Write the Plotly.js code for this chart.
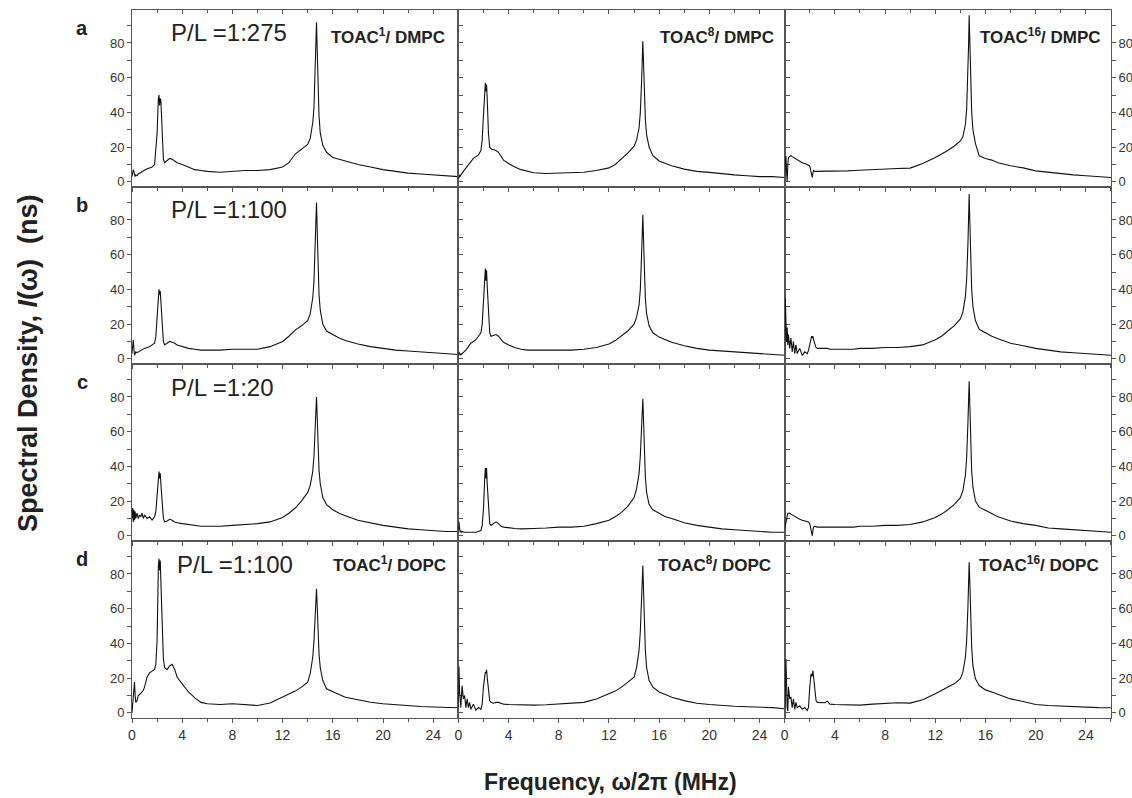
<!DOCTYPE html>
<html><head><meta charset="utf-8">
<script src="https://cdn.plot.ly/plotly-3.0.1.min.js"></script>
<style>html,body{margin:0;padding:0;background:#fff}#chart{width:1132px;height:798px}</style>
</head><body><div id="chart"></div>
<script>
// Frequency grid (MHz)
const freq = [0,0.05,0.1,0.15,0.2,0.25,0.3,0.4,0.5,0.6,
  0.7,0.8,0.9,1.0,1.2,1.4,1.6,1.8,1.9,2.0,
  2.1,2.15,2.2,2.25,2.3,2.4,2.5,2.6,2.8,3.0,
  3.2,3.4,3.6,4.0,4.5,5,5.5,6,7,8,
  9,10,11,12,12.5,13,13.5,14,14.2,14.4,
  14.5,14.6,14.65,14.7,14.75,14.8,14.9,15.0,15.2,15.5,
  16,16.5,17,18,19,20,21,22,23,24,25,26];

// Row a (P/L 1:275, DMPC)
const aL = [3,5,7,6,4,3,4,3.5,4.5,5, 5,6,6.5,6.5,7.5,8,8.5,10,17,28, 48,50,44,48,47,25,13,11,12,13.5, 13,12,11,10,8.5,7,6.5,6,5.5,6, 6.5,6.5,7,8.5,11,16,19,21.5,25,34, 43,62,80,92,78,58,38,28,21,17, 14,13,12,10,8.5,7,6,5,4.5,4,3.5,3];
const aM = [3,2,4,3,4,5,5,6,7,8, 9,10,11,12,13.5,14.5,15.5,18,24,38, 56,57,52,56,48,28,20,19,18.5,18, 17,15,12.5,10.5,8.5,7,6,5.2,4.8,5, 5,5.5,6.5,8,10,13,16.5,20.5,24,31, 40,58,72,81,70,52,36,27,20,15, 12,10.5,9.2,7.3,6,5.4,4.5,4,3.5,3,3,2.5];
const aR = [3.5,8,15,6,0,10,14,14.5,15,14.5, 14,13.5,13,13,12,11,10.5,10,9.5,9, 6,3,2.5,5,6.5,6,6,6,6,6.3, 6,6,6,6,6,6.3,6.5,6.7,7.3,7.7, 7.7,7.9,10.5,14,16,18,20.5,23.5,26,33, 42,60,78,96,80,58,40,30,22,15, 13.4,12.5,11,9.2,8,6.3,5.5,4.4,4,3.5,3,2.5];
// Row b (P/L 1:100, DMPC)
const bL = [3,8,11,6,2,3,4,3.5,4,4.5, 5,5.5,6,6,6.5,7,8,9,13,22, 36,40,37,39,33,18,10,8,9,10, 9.5,9,8,7,6,5.5,5,5,5,5.5, 5.5,5.5,7,10,13,16.5,19,22,26,35, 45,64,80,90,76,56,37,28,20,16, 14,12,10.5,8.5,7,6,5,4.5,4,3.5,3,2.5];
const bM = [2,4,3,2,3,2.5,3,3.5,4,5, 6,7,8,9,10,11,13,15,20,32, 48,52,45,51,42,24,15,13,13.5,14, 13,11,9.5,8,6.5,5.5,5,5,4.8,5, 5,5.5,6.5,8.5,10.5,13,16,20,24,31, 40,60,75,83,70,52,35,26,19,15, 12.5,11,9.5,7.5,6,5,4.5,4,3.5,3,2.5,2];
const bR = [5,35,22,10,18,8,14,6,12,4, 10,3,8,3,6,2,4,3,5,9, 12,13,12,13,11,8,6.5,6,6,6, 6,6,5.5,5.5,5.5,5.5,5.5,6,6,6.5, 6.5,7,8,11,13,16,19,23,27,36, 46,66,84,95,80,60,40,30,22,17, 15,13,11.5,9,7.5,6,5,4,3.5,3,2.5,2];
// Row c (P/L 1:20, DMPC)
const cL = [10,16,8,15,9,14,10,13,10,12, 11,13,10,12,10,11,9,11,14,22, 34,37,33,36,30,17,10,8,8.5,9.5, 9,8,7.5,7,6.5,6,5.5,5.5,5.5,6, 6.5,7,8,10.5,13,16,20,25,29,37, 46,62,74,80,70,54,38,30,22,18, 15,13,11.5,9,7.5,6,5,4,3.5,3,2.5,2.5];
const cM = [3,8,4,2,3,2,2.5,2,2,2, 2,2,2,2,2,2,2.5,3,6,15, 33,39,33,39,30,14,7,6,7,8, 7,5.5,5,4.5,4.2,4,4,4.2,4.5,5, 5,5.5,7,9,11,13.5,17,22,27,36, 46,64,76,79,68,50,34,25,18,15, 13,11,10,7.5,6,5,4,3.5,3,2.5,2,2];
const cR = [4,6,9,11,12,13,13,13,12.5,12, 11.5,11,10.5,10,9.5,9,8.5,8,8,7, 4,1,0,3,5,5.5,5,5,5,5, 5,5,5,5,5,5,5,5.5,5.5,6, 6,6.5,8,10.5,12.5,15,18,22,26,35, 45,65,81,89,76,56,37,28,20,16.5, 14.5,12.5,11,8.5,7,6,4.5,4,3.5,3,2.5,2];
// Row d (P/L 1:100, DOPC)
const dL = [0,5,12,16,17.7,10,6,7,10,10.5, 11,12,13,14.8,20.5,23,24,25,28,42, 84,88.7,82,87.7,76,47,31,26,25,27, 28,25,20.5,16.7,12,8.6,6,5.2,4.8,5.2, 4.8,4.2,5.6,9,10.5,12.5,14.8,17.7,22.5,32, 41.6,57,68.5,71.4,62.8,49,34,26,18.6,13.8, 12,10.6,9,7.5,6.1,5.2,4.6,3.8,3.6,3.3,2.9,2.9];
const dM = [3,26.7,12,3,3,10,15.7,8,10,3, 8,3,6,2,5,1.5,3,2,5,15, 22.5,23.4,23,24.8,20.5,11,7,6,5.5,6, 6,5.5,5,4.8,4.6,4.4,4.4,4.4,4.6,5.2, 5.6,6,8,11,12.5,14.8,17.7,20.5,26,36, 47,65,80,84.8,72,53,36,26,18.6,14.8, 12,10.5,9,7,5.5,4.8,4.2,3.8,3.5,3.3,3,2.3];
const dR = [2,10,31,9,3,1,15,8,9,3, 8,2,6,3,4,2,3,1.3,3.3,15, 22.5,21,21.5,24.4,20.5,11,7,6,6,5.6, 5.8,6.7,5,4.8,4.7,4.6,4.5,4.4,5,5.6, 5.8,5.6,7.5,11,13,14.8,16.7,19.6,23.4,32, 41.6,61,76,86.8,76,57,38,27,19.6,15.7, 13.2,12,10.6,8,6.5,4.8,4.2,3.8,3.5,3.3,3,2.9];

const panelSeries = [aL,aM,aR,bL,bM,bR,cL,cM,cR,dL,dM,dR];
const rowLetters = ['a','b','c','d'];
const ratioLabels = ['P/L =1:275','P/L =1:100','P/L =1:20','P/L =1:100'];
const topLabels = ['TOAC<sup>1</sup>/ DMPC','TOAC<sup>8</sup>/ DMPC','TOAC<sup>16</sup>/ DMPC'];
const bottomLabels = ['TOAC<sup>1</sup>/ DOPC','TOAC<sup>8</sup>/ DOPC','TOAC<sup>16</sup>/ DOPC'];
const xTitle = 'Frequency, ω/2π (MHz)';
const yTitle = 'Spectral Density, <i>I</i>(ω)&nbsp; (ns)';

const W = 1132, H = 798;
const M = {l:132, r:21, t:10, b:80};
const PW = W - M.l - M.r, PH = H - M.t - M.b;
const px = v => (v - M.l) / PW;
const py = v => (H - M.b - v) / PH;

const FONT = 'Liberation Sans, Arial, Helvetica, sans-serif';
const AX = '#555', TXT = '#333';

const traces = [];
const layout = {
  width: W, height: H, margin: M, showlegend: false,
  paper_bgcolor: '#fff', plot_bgcolor: 'rgba(0,0,0,0)',
  font: {family: FONT, color: TXT},
  annotations: []
};

for (let k = 0; k < 12; k++) {
  const r = Math.floor(k / 3), c = k % 3;
  const xn = k === 0 ? 'x' : 'x' + (k + 1);
  const yn = k === 0 ? 'y' : 'y' + (k + 1);
  const xk = k === 0 ? 'xaxis' : 'xaxis' + (k + 1);
  const yk = k === 0 ? 'yaxis' : 'yaxis' + (k + 1);
  traces.push({x: freq, y: panelSeries[k], xaxis: xn, yaxis: yn, type: 'scatter', mode: 'lines',
    line: {color: '#111', width: 1.1}, hoverinfo: 'skip'});
  layout[xk] = {
    domain: [c / 3, (c + 1) / 3], anchor: yn, range: [0, 26],
    showline: true, linecolor: AX, linewidth: 1, mirror: true,
    ticks: 'outside', ticklen: 4, tickcolor: AX, tick0: 0, dtick: 4,
    minor: {dtick: 2, ticks: 'outside', ticklen: 3, tickcolor: AX},
    showticklabels: r === 3, tickfont: {size: 14, color: TXT, family: FONT},
    showgrid: false, zeroline: false, fixedrange: true
  };
  const yax = {
    domain: [1 - (r + 1) / 4, 1 - r / 4], anchor: xn, range: [-3, 99],
    showline: true, linecolor: AX, linewidth: 1,
    ticks: 'outside', ticklen: 4, tickcolor: AX, tick0: 0, dtick: 20,
    minor: {dtick: 10, ticks: 'outside', ticklen: 4, tickcolor: AX},
    tickfont: {size: 13, color: TXT, family: FONT},
    showgrid: false, zeroline: false, fixedrange: true
  };
  if (c === 0) { yax.side = 'left'; yax.mirror = 'allticks'; yax.showticklabels = true; }
  else if (c === 1) { yax.side = 'right'; yax.mirror = true; yax.showticklabels = false; }
  else { yax.side = 'right'; yax.mirror = true; yax.showticklabels = true; }
  layout[yk] = yax;
}

// top-edge inward ticks for the first row
for (let c = 0; c < 3; c++) {
  const idx = 13 + c;
  const base = c === 0 ? 'x' : 'x' + (c + 1);
  const yn = c === 0 ? 'y' : 'y' + (c + 1);
  layout['xaxis' + idx] = {
    overlaying: base, side: 'top', anchor: yn, range: [0, 26],
    showline: false, ticks: 'inside', ticklen: 4, tickcolor: AX, tick0: 0, dtick: 4,
    minor: {dtick: 2, ticks: 'inside', ticklen: 3, tickcolor: AX},
    showticklabels: false, showgrid: false, zeroline: false, fixedrange: true
  };
  traces.push({x: [null], y: [null], xaxis: 'x' + idx, yaxis: yn, type: 'scatter', mode: 'lines', hoverinfo: 'skip'});
}

const A = layout.annotations;
const rowTop = [10, 187, 364, 541];
for (let r = 0; r < 4; r++) {
  A.push({xref: 'paper', yref: 'paper', x: px(82), y: py(rowTop[r] + 18), xanchor: 'center', yanchor: 'middle',
    text: '<b>' + rowLetters[r] + '</b>', showarrow: false, font: {size: 20, color: '#222', family: FONT}});
  A.push({xref: 'paper', yref: 'paper', x: px(r === 3 ? 175 : 169), y: py(rowTop[r] + 23), xanchor: 'left', yanchor: 'middle',
    text: ratioLabels[r], showarrow: false, font: {size: 24, color: '#222', family: FONT}});
}
const colRight = [447, 776, 1103];
const colRightD = [448, 773, 1101];
for (let c = 0; c < 3; c++) {
  A.push({xref: 'paper', yref: 'paper', x: px(colRight[c]), y: py(36), xanchor: 'right', yanchor: 'middle',
    text: '<b>' + topLabels[c] + '</b>', showarrow: false, font: {size: 17, color: '#222', family: FONT}});
  A.push({xref: 'paper', yref: 'paper', x: px(colRightD[c]), y: py(564), xanchor: 'right', yanchor: 'middle',
    text: '<b>' + bottomLabels[c] + '</b>', showarrow: false, font: {size: 17, color: '#222', family: FONT}});
}
A.push({xref: 'paper', yref: 'paper', x: px(610), y: py(782), xanchor: 'center', yanchor: 'middle',
  text: '<b>' + xTitle + '</b>', showarrow: false, font: {size: 23, color: '#222', family: FONT}});
A.push({xref: 'paper', yref: 'paper', x: px(28), y: py(364), xanchor: 'center', yanchor: 'middle', textangle: -90,
  text: '<b>' + yTitle + '</b>', showarrow: false, font: {size: 27, color: '#222', family: FONT}});

Plotly.newPlot('chart', traces, layout, {staticPlot: true, displayModeBar: false});
</script>
</body></html>
